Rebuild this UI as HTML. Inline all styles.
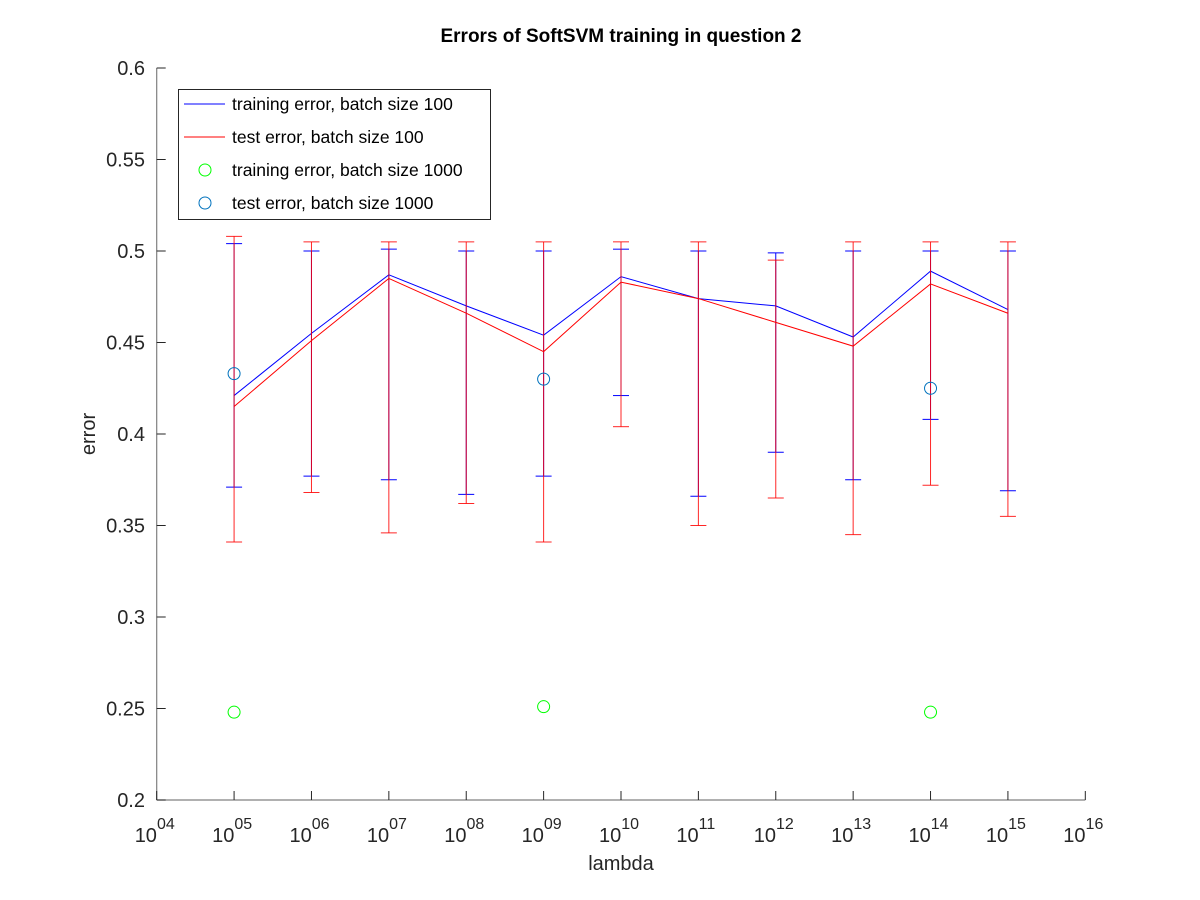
<!DOCTYPE html>
<html><head><meta charset="utf-8">
<style>
body{margin:0;background:#fff;}
svg{display:block;font-family:"Liberation Sans",Arial,sans-serif;}
</style></head>
<body>
<svg id="chart" width="1200" height="900" viewBox="0 0 1200 900">
<text x="621" y="42" text-anchor="middle" font-size="19" font-weight="bold" fill="#000">Errors of SoftSVM training in question 2</text>
<g id="axes"></g>
<g id="marks"></g>
<text x="621" y="870" text-anchor="middle" font-size="20" fill="#262626">lambda</text>
<text transform="translate(95,434) rotate(-90)" text-anchor="middle" font-size="20" fill="#262626">error</text>
<g>
<rect x="178.5" y="89.5" width="312" height="130" fill="#fff" stroke="#262626" stroke-width="1"/>
<g><line x1="184" y1="104" x2="225" y2="104" stroke="#0000ff" stroke-width="1"/><text x="232" y="110" font-size="17.5" fill="#000">training error, batch size 100</text></g>
<g><line x1="184" y1="137" x2="225" y2="137" stroke="#ff0000" stroke-width="1"/><text x="232" y="143" font-size="17.5" fill="#000">test error, batch size 100</text></g>
<g><circle cx="205" cy="170" r="6" fill="none" stroke="#00ff00" stroke-width="1"/><text x="232" y="176" font-size="17.5" fill="#000">training error, batch size 1000</text></g>
<g><circle cx="205" cy="203" r="6" fill="none" stroke="#0072bd" stroke-width="1"/><text x="232" y="209" font-size="17.5" fill="#000">test error, batch size 1000</text></g>
</g>
</svg>
<script>
const exponents = [5,6,7,8,9,10,11,12,13,14,15];
const trainMean = [0.421,0.455,0.487,0.470,0.454,0.486,0.474,0.470,0.453,0.489,0.468];
const testMean  = [0.415,0.451,0.485,0.466,0.445,0.483,0.474,0.461,0.448,0.482,0.466];
const trainLow  = [0.371,0.377,0.375,0.367,0.377,0.421,0.366,0.390,0.375,0.408,0.369];
const trainHigh = [0.504,0.500,0.501,0.500,0.500,0.501,0.500,0.499,0.500,0.500,0.500];
const testLow   = [0.341,0.368,0.346,0.362,0.341,0.404,0.350,0.365,0.345,0.372,0.355];
const testHigh  = [0.508,0.505,0.505,0.505,0.505,0.505,0.505,0.495,0.505,0.505,0.505];
const bigExps   = [5,9,14];
const bigTrain  = [0.248,0.251,0.248];
const bigTest   = [0.433,0.430,0.425];
const xTickExps = [4,5,6,7,8,9,10,11,12,13,14,15,16];
const yTicks    = [0.2,0.25,0.3,0.35,0.4,0.45,0.5,0.55,0.6];

const X0=156.7, X1=1085.3, Y0=800, Y1=68;
const xs = e => X0 + (e-4)/(16-4)*(X1-X0);
const ys = v => Y0 - (v-0.2)/(0.6-0.2)*(Y0-Y1);
const NS="http://www.w3.org/2000/svg";
function mk(tag, attrs, parent){const el=document.createElementNS(NS,tag);for(const k in attrs)el.setAttribute(k,attrs[k]);parent.appendChild(el);return el;}
const axes=document.getElementById('axes'), marks=document.getElementById('marks');
const AX="#808080";
let l=mk('line',{x1:X0,y1:Y0,x2:X1,y2:Y0,stroke:AX,'stroke-width':1.2},axes);


l=mk('line',{x1:X0,y1:Y0,x2:X0,y2:Y1,stroke:AX,'stroke-width':1.2},axes);


xTickExps.forEach(e=>{
  const x=xs(e);
  const t=mk('line',{x1:x,y1:Y0,x2:x,y2:Y0-9,stroke:"#262626",'stroke-width':1},axes);
  
  
  const tx=mk('text',{x:x-22,y:842,'font-size':20,fill:'#262626'},axes);
  
  
  tx.textContent='10';
  const sp=mk('tspan',{dy:-13,'font-size':16},tx);
  sp.textContent=String(e).padStart(2,'0');
});
yTicks.forEach(v=>{
  const y=ys(v);
  const t=mk('line',{x1:X0,y1:y,x2:X0+9,y2:y,stroke:"#262626",'stroke-width':1},axes);
  
  
  const tx=mk('text',{x:145,y:y+7,'font-size':20,fill:'#262626','text-anchor':'end'},axes);
  
  
  tx.textContent=String(v);
});
function errbars(lo,hi,color,name){
  exponents.forEach((e,i)=>{
    const x=xs(e), a=ys(lo[i]), b=ys(hi[i]);
    const g=mk('g',{stroke:color,'stroke-width':1,fill:'none'},marks);
    
    
    mk('line',{x1:x,y1:a,x2:x,y2:b},g);
    mk('line',{x1:x-8,y1:a,x2:x+8,y2:a},g);
    mk('line',{x1:x-8,y1:b,x2:x+8,y2:b},g);
  });
}
function line(vals,color,name){
  const p=mk('polyline',{points:exponents.map((e,i)=>xs(e)+','+ys(vals[i])).join(' '),stroke:color,'stroke-width':1,fill:'none'},marks);
  
  
}
errbars(trainLow,trainHigh,'#0000ff','train-error-bar');
line(trainMean,'#0000ff','train-error-line');
errbars(testLow,testHigh,'rgba(255,0,0,0.85)','test-error-bar');
line(testMean,'#ff0000','test-error-line');
bigExps.forEach((e,i)=>{
  const c=mk('circle',{cx:xs(e),cy:ys(bigTrain[i]),r:6,fill:'none',stroke:'#00ff00','stroke-width':1},marks);
  
  
  const d=mk('circle',{cx:xs(e),cy:ys(bigTest[i]),r:6,fill:'none',stroke:'#0072bd','stroke-width':1},marks);
  
  
});
</script>
</body></html>
